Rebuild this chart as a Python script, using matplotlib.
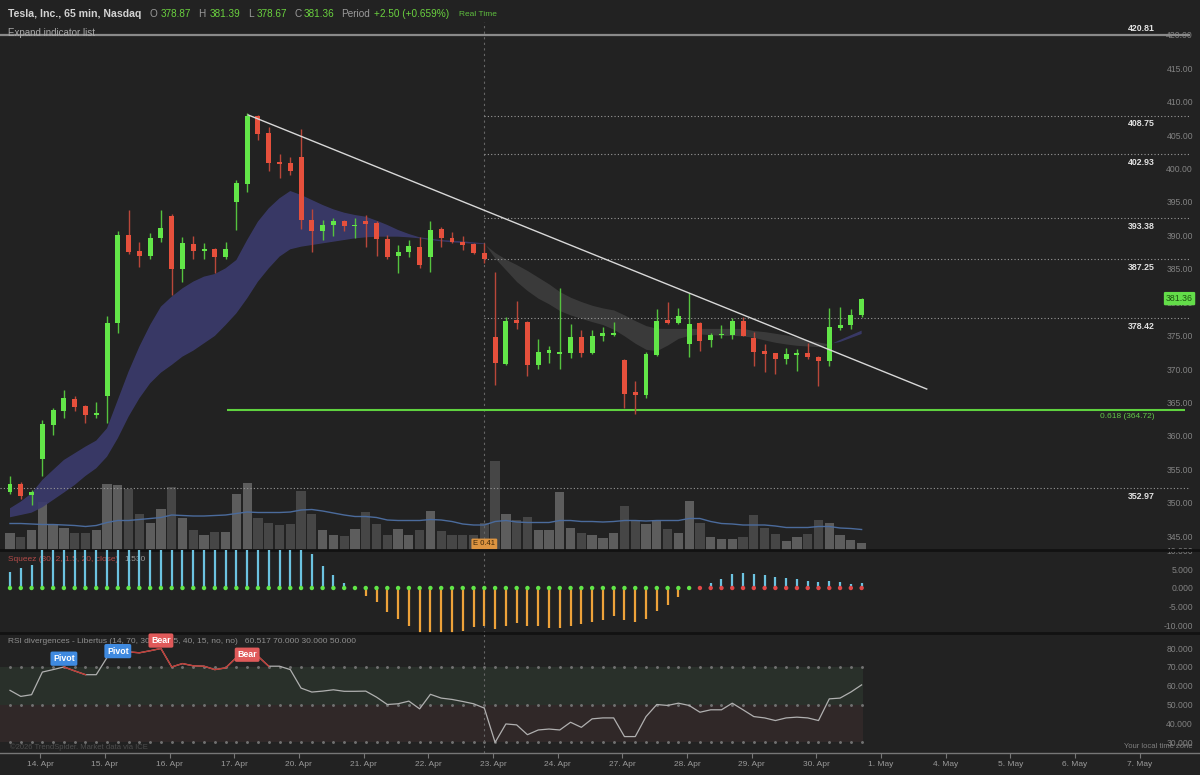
import numpy as np
import matplotlib
matplotlib.use("Agg")
import matplotlib.pyplot as plt
from matplotlib.transforms import blended_transform_factory as blend

plt.rcParams['font.family'] = ['Liberation Sans', 'DejaVu Sans']

# ---------------- data ----------------
opens = [352.39, 353.69, 351.90, 357.37, 362.49, 364.48, 366.37, 365.23, 363.94, 366.82,
         377.77, 390.95, 388.51, 387.72, 390.45, 393.74, 385.73, 389.51, 388.51, 388.71,
         387.52, 395.83, 398.56, 408.66, 406.12, 401.75, 401.65, 402.54, 393.19, 391.50,
         392.34, 392.94, 392.24, 392.99, 392.69, 390.35, 387.77, 388.36, 389.11, 387.52,
         391.85, 390.50, 389.86, 389.51, 388.21, 375.58, 371.60, 378.17, 377.92, 371.45,
         373.19, 373.14, 373.19, 375.58, 373.19, 375.78, 375.98, 372.20, 367.37, 366.87,
         372.94, 378.17, 377.77, 374.54, 377.77, 375.18, 375.88, 375.93, 378.07, 375.43,
         373.54, 373.19, 372.30, 372.99, 373.29, 372.69, 372.05, 377.02, 377.42, 378.87]
highs = [354.88, 353.89, 352.69, 363.24, 364.98, 367.72, 366.82, 365.48, 365.83, 378.76,
         391.50, 394.58, 389.86, 391.20, 394.58, 394.08, 390.60, 390.70, 389.71, 388.86,
         389.86, 399.06, 409.11, 408.86, 407.02, 403.04, 402.54, 406.77, 394.83, 393.19,
         393.49, 393.09, 393.49, 393.84, 392.99, 390.85, 389.36, 390.10, 390.60, 392.99,
         392.10, 391.35, 390.70, 389.61, 389.61, 385.38, 378.57, 381.00, 378.00, 375.28,
         374.29, 382.89, 377.52, 376.67, 376.67, 377.17, 377.92, 372.30, 368.96, 373.44,
         379.76, 380.80, 380.01, 382.15, 377.92, 376.18, 377.42, 378.42, 378.57, 376.43,
         374.59, 373.29, 373.94, 373.79, 374.78, 372.79, 379.91, 380.16, 379.76, 381.39]
lows = [352.14, 351.30, 350.40, 354.88, 361.00, 363.49, 364.48, 362.74, 363.49, 362.74,
        376.27, 388.11, 386.12, 387.22, 389.86, 381.90, 383.89, 387.22, 387.22, 385.23,
        387.22, 391.60, 397.32, 405.13, 400.45, 399.46, 399.81, 391.85, 388.36, 390.20,
        390.70, 391.50, 390.50, 389.11, 387.72, 387.22, 385.23, 387.62, 385.88, 385.38,
        389.11, 389.61, 388.61, 388.11, 386.72, 368.47, 371.45, 376.77, 369.81, 370.80,
        371.70, 370.80, 372.45, 372.55, 373.00, 375.08, 375.78, 364.98, 364.14, 366.48,
        372.79, 377.52, 377.60, 372.55, 373.59, 374.09, 375.43, 375.28, 375.70, 371.30,
        370.31, 370.11, 371.60, 370.46, 372.30, 368.22, 371.30, 376.67, 376.77, 378.67]
closes = [353.64, 351.80, 352.49, 362.64, 364.63, 366.42, 365.13, 363.99, 364.23, 377.77,
          390.95, 388.36, 387.72, 390.45, 392.00, 385.73, 389.61, 388.51, 388.71, 387.52,
          388.76, 398.66, 408.66, 405.93, 401.65, 401.55, 400.45, 393.19, 391.50, 392.34,
          392.94, 392.19, 392.44, 392.59, 390.35, 387.62, 388.36, 389.26, 386.37, 391.70,
          390.50, 389.86, 389.36, 388.26, 387.22, 371.70, 378.07, 377.77, 371.45, 373.34,
          373.69, 373.29, 375.68, 373.19, 375.83, 376.18, 376.18, 367.12, 366.87, 373.09,
          378.07, 377.77, 378.76, 377.57, 375.03, 375.93, 376.08, 378.07, 375.78, 373.44,
          373.04, 372.35, 373.04, 373.19, 372.69, 372.05, 377.17, 377.42, 378.91, 381.36]

volumes = [3.5, 2.7, 4.1, 9.7, 5.3, 4.5, 3.5, 3.4, 4.0, 13.3,
           13.1, 12.3, 7.2, 5.5, 8.3, 12.7, 6.5, 4.1, 3.1, 3.7,
           3.7, 11.3, 13.4, 6.4, 5.5, 5.1, 5.2, 11.8, 7.3, 4.0,
           3.1, 2.8, 4.2, 7.7, 5.3, 3.0, 4.2, 3.1, 4.0, 7.9,
           3.8, 3.0, 3.0, 3.0, 5.5, 17.8, 7.3, 6.0, 6.7, 4.0,
           4.0, 11.7, 4.5, 3.5, 3.0, 2.5, 3.5, 8.9, 5.9, 5.2,
           5.8, 4.2, 3.5, 9.8, 5.5, 2.7, 2.3, 2.3, 2.7, 7.0,
           4.5, 3.2, 1.9, 2.7, 3.2, 6.0, 5.5, 3.0, 2.0, 1.5]
vol_ma = [5.3, 5.3, 5.2, 5.1, 5.1, 5.0, 4.9, 4.7, 4.9, 5.5,
          5.9, 5.9, 6.1, 6.3, 6.5, 7.0, 6.9, 6.8, 6.8, 6.9,
          7.0, 7.3, 7.6, 7.5, 7.5, 7.5, 7.6, 8.0, 8.1, 7.8,
          7.4, 7.0, 6.7, 6.7, 6.5, 6.0, 5.9, 5.9, 5.9, 6.1,
          6.0, 5.7, 5.2, 5.0, 5.0, 5.7, 5.9, 5.6, 5.5, 5.5,
          5.5, 5.9, 5.9, 5.7, 5.7, 5.6, 5.7, 5.9, 5.9, 5.8,
          5.9, 5.9, 5.9, 6.3, 6.3, 5.7, 5.3, 5.2, 5.0, 5.0,
          5.0, 4.8, 4.5, 4.5, 4.5, 4.7, 4.7, 4.4, 4.3, 4.1]

ema_fast = [349.98, 350.98, 352.23, 354.22, 355.72, 357.21, 358.21, 359.21, 360.11, 361.95,
            366.19, 370.43, 374.17, 377.41, 380.16, 381.65, 382.90, 383.90, 384.65, 385.04,
            385.89, 387.14, 390.13, 392.88, 394.87, 396.37, 397.46, 396.87, 396.12, 395.37,
            394.72, 394.22, 393.87, 393.62, 393.03, 392.38, 391.63, 391.03, 390.53, 390.33,
            390.13, 390.03, 389.93, 389.78, 389.63, 387.39, 385.65, 383.90, 382.55, 381.41,
            380.56, 379.56, 378.91, 378.41, 377.91, 377.47, 376.77, 375.77, 374.67, 373.77,
            373.58, 374.42, 375.42, 375.87, 376.07, 375.97, 375.87, 375.87, 375.77, 375.57,
            375.17, 374.82, 374.57, 374.37, 374.27, 374.17, 374.42, 375.17, 375.87, 376.57]
ema_slow = [348.64, 348.98, 349.33, 350.13, 351.23, 352.33, 353.47, 354.82, 355.97, 357.71,
            360.46, 363.70, 366.44, 368.69, 370.28, 371.43, 372.68, 373.57, 374.67, 375.77,
            377.41, 379.16, 381.40, 383.90, 385.89, 387.64, 388.74, 389.13, 389.38, 389.63,
            389.88, 390.13, 390.38, 390.53, 390.63, 390.63, 390.63, 390.53, 390.38, 390.13,
            389.93, 389.78, 389.68, 389.58, 389.53, 388.24, 387.24, 386.44, 385.55, 384.55,
            383.55, 382.40, 381.56, 380.91, 380.36, 379.96, 379.66, 378.91, 378.06, 377.32,
            376.92, 376.90, 376.90, 376.90, 376.90, 376.90, 376.90, 376.90, 376.90, 376.57,
            376.42, 376.17, 375.92, 375.57, 375.17, 374.87, 374.57, 374.87, 375.47, 376.07]

squeeze_mom = [4.15, 5.32, 6.2, 10.8, 11.5, 12.3, 12.9, 13.4, 14.2, 16.5,
               18.9, 19.5, 19.2, 18.8, 18.1, 17.9, 17.2, 16.5, 15.8, 15.0,
               14.6, 16.0, 17.5, 17.0, 16.2, 15.1, 13.6, 11.4, 9.0, 5.75,
               3.5, 1.28, 0.3, -2.23, -3.83, -6.4, -8.2, -9.96, -12.4, -12.9,
               -12.6, -12.2, -11.5, -10.4, -10.0, -10.9, -10.0, -9.3, -10.2, -10.2,
               -10.5, -10.5, -10.0, -9.6, -8.9, -8.4, -7.5, -8.4, -9.0, -8.2,
               -6.2, -4.4, -2.4, -0.3, 0.3, 1.33, 2.39, 3.72, 3.99, 3.81,
               3.46, 2.93, 2.66, 2.39, 1.95, 1.6, 1.95, 1.6, 1.06, 1.33]
squeeze_last_green = 63   # dots are green up to this bar, red after

rsi = [57.6, 54.4, 55.3, 67.3, 68.6, 70.0, 67.9, 65.9, 65.9, 75.0,
       78.4, 78.0, 77.5, 78.6, 79.8, 70.0, 71.8, 70.6, 70.4, 68.6,
       69.5, 75.0, 76.8, 75.7, 70.4, 70.4, 68.6, 58.8, 56.7, 57.2,
       57.9, 57.1, 57.1, 57.2, 54.0, 50.1, 50.5, 51.9, 47.8, 55.5,
       53.5, 52.8, 51.7, 50.5, 48.2, 30.0, 39.8, 39.3, 34.1, 36.6,
       37.1, 36.6, 40.7, 38.0, 42.5, 43.0, 43.0, 33.1, 33.1, 43.7,
       50.1, 49.6, 50.8, 49.6, 46.0, 47.3, 47.3, 50.8, 47.3, 43.7,
       43.0, 41.6, 43.0, 43.4, 43.0, 41.6, 53.1, 53.5, 56.7, 60.5]
rsi_red_segments = [(5, 7), (11, 21), (23, 24)]
signal_bars = [5, 10, 14, 22]
signal_vals = [74.4, 78.4, 84.0, 76.5]
signal_text = ['Pivot', 'Pivot', 'Bear', 'Bear']

levels = [408.75, 402.93, 393.38, 387.25, 378.42]
level_low = 352.97
level_top = 420.81
fib_level = 364.72
fib_start_bar = 20.13
trend_x = [22.1, 85.04]
trend_y = [408.84, 367.83]
earnings_bar = 44

day_start = [3, 9, 15, 21, 27, 33, 39, 45, 51, 57, 63, 69, 75, 81, 87, 93, 99, 105]
day_labels = ['14. Apr', '15. Apr', '16. Apr', '17. Apr', '20. Apr', '21. Apr', '22. Apr',
              '23. Apr', '24. Apr', '27. Apr', '28. Apr', '29. Apr', '30. Apr',
              '1. May', '4. May', '5. May', '6. May', '7. May']
price_ticks = [420, 415, 410, 405, 400, 395, 390, 385, 380, 375, 370, 365, 360, 355, 350, 345]
sq_ticks = [10, 5, 0, -5, -10]
rsi_ticks = [80, 70, 60, 50, 40, 30]

# ---------------- style ----------------
BG = '#222222'
GREEN = '#62e648'
RED = '#e6503c'
GREEN_W = '#55c23e'
RED_W = '#b9473a'
W, H = 1200, 775

fig = plt.figure(figsize=(12, 7.75), dpi=100, facecolor=BG)


def rect(top, bottom):
    return [0, 1 - bottom / H, 1, (bottom - top) / H]


ax_vol = fig.add_axes(rect(22, 550))
ax = fig.add_axes(rect(22, 550), sharex=ax_vol)
ax_sq = fig.add_axes(rect(550, 633), sharex=ax_vol)
ax_rsi = fig.add_axes(rect(633, 753), sharex=ax_vol)

ax_vol.set_facecolor(BG)
ax.patch.set_alpha(0)
ax_sq.set_facecolor(BG)
ax_rsi.set_facecolor(BG)

XL = (-0.928, 110.39)
x_end = 109.46
ax_vol.set_xlim(*XL)

for a in (ax_vol, ax, ax_sq, ax_rsi):
    for s in a.spines.values():
        s.set_visible(False)
    a.tick_params(axis='x', which='both', bottom=False, labelbottom=False)

x = np.arange(len(closes))
o = np.array(opens); c = np.array(closes)
h = np.array(highs); l = np.array(lows)
up = c >= o

# volume
ax_vol.bar(x, volumes, width=0.86, color=np.where(up, '#5d5d5d', '#464646'), linewidth=0)
ax_vol.plot(x, vol_ma, color='#4b6b9c', lw=1.0)
ax_vol.set_ylim(0, 105.6)
ax_vol.set_yticks([])

# cloud
f = np.array(ema_fast); s = np.array(ema_slow)
ax.fill_between(x, f, s, where=f >= s, interpolate=True, color='#3b3b6c', alpha=0.92, lw=0, zorder=2)
ax.fill_between(x, f, s, where=f < s, interpolate=True, color='#3d3d3d', alpha=0.9, lw=0, zorder=2)

# candles
ax.vlines(x, l, h, colors=np.where(up, GREEN_W, RED_W), lw=1.0, zorder=4)
ax.bar(x, np.maximum(np.abs(c - o), 0.2), bottom=np.minimum(o, c), width=0.46,
       color=np.where(up, GREEN, RED), linewidth=0, zorder=5)

# lines
ax.hlines(level_top, XL[0], x_end, colors='#8a8a8a', lw=1.6, zorder=3)
ax.hlines(levels, earnings_bar, x_end, colors='#9a9a9a', linestyles=(0, (1, 2)), lw=0.8, zorder=3)
ax.hlines(level_low, XL[0], x_end, colors='#9a9a9a', linestyles=(0, (1, 2)), lw=0.8, zorder=3)
ax.hlines(fib_level, fib_start_bar, 109.0, colors='#5fd23f', lw=1.5, zorder=3)
ax.plot(trend_x, trend_y, color='#d8d8d8', lw=1.0, zorder=6)

ax.set_ylim(343.74, 422.755)
ax.yaxis.tick_right()
ax.set_yticks(price_ticks)
ax.set_yticklabels([f"{v:.2f}" for v in price_ticks])
ax.tick_params(axis='y', length=0, pad=-5, labelsize=6.2, labelcolor='#828282')
plt.setp(ax.get_yticklabels(), ha='right', va='bottom')

bt = blend(ax.transAxes, ax.transData)
for v in levels + [level_low]:
    ax.annotate(f"{v:.2f}", xy=(0.9625, v), xycoords=bt, xytext=(0, -2.5), textcoords='offset points',
                ha='right', va='top', fontsize=6.3, fontweight='bold', color='#e2e2e2', zorder=7)
ax.annotate(f"{level_top:.2f}", xy=(0.9625, level_top), xycoords=bt, xytext=(0, 1.5),
            textcoords='offset points', ha='right', va='bottom', fontsize=6.3,
            fontweight='bold', color='#e2e2e2', zorder=7)
ax.annotate(f"0.618 ({fib_level:.2f})", xy=(0.9625, fib_level), xycoords=bt, xytext=(0, -2.5),
            textcoords='offset points', ha='right', va='top', fontsize=6, color='#63c94a', zorder=7)
ax.annotate(f"{closes[-1]:.2f}", xy=(0.9942, closes[-1]), xycoords=bt, ha='right', va='center',
            fontsize=6.3, color='#1c5410', zorder=10,
            bbox=dict(boxstyle='round,pad=0.25,rounding_size=0.15', fc='#63dd49', ec='none'))
ax.annotate('E 0.41', xy=(earnings_bar, 0.0114), xycoords=('data', 'axes fraction'),
            ha='center', va='center', fontsize=5.5, color='#3b2609', zorder=10,
            bbox=dict(boxstyle='round,pad=0.25,rounding_size=0.15', fc='#dd9440', ec='none'))

# squeeze
mom = np.array(squeeze_mom)
ax_sq.vlines(x, 0, mom, colors=np.where(mom >= 0, '#6cc3e0', '#eea23a'), lw=1.6, zorder=3)
ax_sq.scatter(x, np.zeros_like(mom), s=10, lw=0, zorder=4,
              c=np.where(x <= squeeze_last_green, '#62e648', '#e04848'))
ax_sq.set_ylim(-11.95, 10.09)
ax_sq.yaxis.tick_right()
ax_sq.set_yticks(sq_ticks)
ax_sq.set_yticklabels([f"{v:.3f}" for v in sq_ticks])
ax_sq.tick_params(axis='y', length=0, pad=-5, labelsize=6.2, labelcolor='#828282')
plt.setp(ax_sq.get_yticklabels(), ha='right')
ax_sq.text(8 / W, 0.88, 'Squeez (30, 2, 1.5, 20, close)', transform=ax_sq.transAxes,
           fontsize=6, color='#b24a48', va='center', zorder=1)
ax_sq.text(124 / W, 0.88, '1.530', transform=ax_sq.transAxes, fontsize=6, color='#9a9a9a',
           va='center', zorder=1)
ax_sq.spines['top'].set_visible(True)
ax_sq.spines['top'].set_color('#121212')
ax_sq.spines['top'].set_linewidth(2)

# RSI
r = np.array(rsi)
xr = [XL[0], len(r) - 1 + 0.1]
ax_rsi.fill_between(xr, 50, 70, color='#29302a', lw=0, zorder=1)
ax_rsi.fill_between(xr, 30, 50, color='#302828', lw=0, zorder=1)
for lvl in (70, 50, 30):
    ax_rsi.plot(x, np.full(len(x), lvl), ls='none', marker='o', ms=1.1, color='#707070', zorder=2)
ax_rsi.plot(x, r, color='#b0b0b0', lw=0.9, zorder=3)
for a0, b0 in rsi_red_segments:
    ax_rsi.plot(x[a0:b0 + 1], r[a0:b0 + 1], color='#c23a34', lw=1.0, zorder=4)
ax_rsi.text(8 / W, 0.933, 'RSI divergences - Libertus (14, 70, 30, 70, 55, 40, 15, no, no)   '
            '60.517 70.000 30.000 50.000', transform=ax_rsi.transAxes, fontsize=6,
            color='#8f8f8f', va='center', zorder=5)
for b, v, t in zip(signal_bars, signal_vals, signal_text):
    ax_rsi.text(b, v, t, ha='center', va='center', fontsize=6.3, fontweight='bold', color='white',
                zorder=8, bbox=dict(boxstyle='round,pad=0.3,rounding_size=0.2',
                                    fc='#3f8ae0' if t == 'Pivot' else '#e05a5a', ec='none'))
ax_rsi.set_ylim(24.4, 88.0)
ax_rsi.yaxis.tick_right()
ax_rsi.set_yticks(rsi_ticks)
ax_rsi.set_yticklabels([f"{v:.3f}" for v in rsi_ticks])
ax_rsi.tick_params(axis='y', length=0, pad=-5, labelsize=6.2, labelcolor='#828282')
plt.setp(ax_rsi.get_yticklabels(), ha='right')
ax_rsi.spines['top'].set_visible(True)
ax_rsi.spines['top'].set_color('#121212')
ax_rsi.spines['top'].set_linewidth(2)
ax_rsi.spines['bottom'].set_visible(True)
ax_rsi.spines['bottom'].set_color('#777777')
ax_rsi.spines['bottom'].set_linewidth(1)
ax_rsi.set_xticks([d - 0.2 for d in day_start])
ax_rsi.set_xticklabels(day_labels)
ax_rsi.tick_params(axis='x', bottom=True, labelbottom=True, direction='out', length=3.6,
                   width=0.8, color='#777777', labelsize=6, labelcolor='#9a9a9a', pad=2)

# earnings vertical
for a in (ax, ax_sq, ax_rsi):
    a.axvline(earnings_bar, color='#666666', ls=(0, (2, 3)), lw=0.8, zorder=2)

# header
def ftxt(px, py, t, **kw):
    fig.text(px / W, 1 - py / H, t, va='center', **kw)

ftxt(8, 14, 'Tesla, Inc., 65 min, Nasdaq', fontsize=7.6, fontweight='bold', color='#d2d2d2')
hdr = [(149.5, 'O', '#9a9a9a'), (160.5, '378.87', '#6ad13f'), (198.5, 'H', '#9a9a9a'),
       (209.5, '381.39', '#6ad13f'), (248, 'L', '#9a9a9a'), (257, '378.67', '#6ad13f'),
       (294.5, 'C', '#9a9a9a'), (304, '381.36', '#6ad13f'), (341, 'Period', '#9a9a9a'),
       (374, '+2.50 (+0.659%)', '#6ad13f')]
for px, t, col in hdr:
    ftxt(px, 14, t, fontsize=7.2, color=col)
ftxt(459.3, 14, 'Real Time', fontsize=6, color='#5fbf3f')
ftxt(8, 33, 'Expand indicator list', fontsize=7, color='#a8a8a8')
ftxt(10, 747, '\u00a92026 TrendSpider. Market data via ICE', fontsize=5.5, color='#4d4d4d')
fig.text(1193 / W, 1 - 746 / H, 'Your local time zone', fontsize=5.5, color='#808080',
         ha='right', va='center')

fig.savefig('out.png', dpi=100, facecolor=BG)
